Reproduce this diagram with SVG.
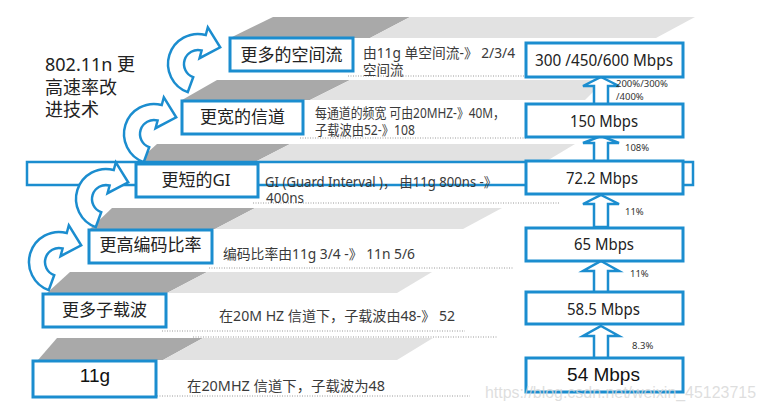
<svg xmlns="http://www.w3.org/2000/svg" xmlns:xlink="http://www.w3.org/1999/xlink" width="766" height="411" viewBox="0 0 766 411">
<defs>
<style>
.dk{fill:#a9a9a9}
.lt{fill:#e2e2e2}
.dot{stroke:#9a9a9a;stroke-width:1;stroke-dasharray:1 1.5;fill:none}
.box{fill:#fff;stroke:#1b8dcf;stroke-width:3}
.arr{fill:#fff;stroke:#1b8dcf;stroke-width:2.5;stroke-linejoin:miter}
.nt{font-family:"Noto Sans","Noto Sans CJK SC",sans-serif;font-size:17px;fill:#222;text-anchor:middle}
.rt{font-family:"Noto Sans","Noto Sans CJK SC",sans-serif;font-size:16px;fill:#222;text-anchor:middle}
.ds{font-family:"Noto Sans","Noto Sans CJK SC",sans-serif;font-size:13.5px;fill:#3a3a3a}
.pc{font-family:"Noto Sans",sans-serif;font-size:9.5px;fill:#333}
.ar{font-family:"Liberation Sans",Arial,sans-serif;fill:#111;text-anchor:middle}
</style>
<path id="carrow" d="M -10.26,28.19 A 30 30 0 0 1 7.76,-28.98 L 9.83,-36.7 L 22.2,-16.7 L 1.55,-5.8 L 3.62,-13.52 A 14 14 0 0 0 -4.79,13.16 Z"/>
</defs>
<rect width="766" height="411" fill="#fff"/>

<g id="bands">
<polygon class="dk" points="230,38 273,17 410,17 370,38"/>
<polygon class="lt" points="370,38 410,17 695,17 656,38"/>
<polygon class="dk" points="182,100 217,80 350,80 310,100"/>
<polygon class="lt" points="310,100 350,80 605,80 585,100"/>
<polygon class="dk" points="137,162 157,144 290,144 255,162"/>
<polygon class="lt" points="255,162 290,144 575,144 545,162"/>
<polygon class="dk" points="90,229 112,208 255,208 215,229"/>
<polygon class="lt" points="215,229 255,208 502,208 463,229"/>
<polygon class="dk" points="47,293 70,272 207,272 167,293"/>
<polygon class="lt" points="167,293 207,272 432,272 397,293"/>
<polygon class="dk" points="38,360 57,338 203,338 163,360"/>
<polygon class="lt" points="163,360 203,338 433,338 397,360"/>
</g>

<g id="dotted">
<line class="dot" x1="348" y1="76" x2="526" y2="76"/>
<line class="dot" x1="300" y1="138" x2="526" y2="138"/>
<line class="dot" x1="253" y1="203" x2="560" y2="203"/>
<line class="dot" x1="209" y1="268" x2="513" y2="268"/>
<line class="dot" x1="162" y1="331" x2="465" y2="331"/>
<line class="dot" x1="193" y1="337" x2="498" y2="337"/>
<line class="dot" x1="157" y1="396" x2="470" y2="396"/>
</g>

<rect id="row-highlight" x="27" y="162" width="666" height="23" fill="none" stroke="#1b8dcf" stroke-width="2.5"/>

<g id="connectors">
<use xlink:href="#carrow" href="#carrow" x="198" y="64" class="arr"/>
<use xlink:href="#carrow" href="#carrow" x="154" y="134" class="arr"/>
<use xlink:href="#carrow" href="#carrow" x="106" y="199" class="arr"/>
<use xlink:href="#carrow" href="#carrow" x="59" y="262" class="arr"/>
<path class="arr" d="M601,326 L619,336 L608,336 L608,359 L594,359 L594,336 L583,336 Z"/>
<path class="arr" d="M601,261 L619,271 L608,271 L608,293 L594,293 L594,271 L583,271 Z"/>
<path class="arr" d="M601,195 L619,204 L608,204 L608,227 L594,227 L594,204 L583,204 Z"/>
<path class="arr" d="M601,136 L619,143 L608,143 L608,162 L594,162 L594,143 L583,143 Z"/>
<path class="arr" d="M601,77 L619,86 L608,86 L608,105 L594,105 L594,86 L583,86 Z"/>
</g>

<g id="title">
<text x="45" y="71" font-family="Noto Sans,Noto Sans CJK SC,sans-serif" font-size="18" fill="#222">802.11n 更</text>
<text x="45" y="94" font-family="Noto Sans,Noto Sans CJK SC,sans-serif" font-size="18" fill="#222">高速率改</text>
<text x="45" y="116" font-family="Noto Sans,Noto Sans CJK SC,sans-serif" font-size="18" fill="#222">进技术</text>
</g>

<g id="n-spatial">
<rect class="box" x="230" y="38" width="123" height="33"/>
<text class="nt" x="291.5" y="61">更多的空间流</text>
<text class="ds" x="363" y="58" textLength="152" lengthAdjust="spacingAndGlyphs">由11g 单空间流-》 2/3/4</text>
<text class="ds" x="363" y="74.5">空间流</text>
</g>
<g id="n-wide">
<rect class="box" x="182" y="101" width="121" height="33"/>
<text class="nt" x="242.5" y="123">更宽的信道</text>
<text class="ds" x="315" y="118" font-size="13" textLength="190" lengthAdjust="spacingAndGlyphs">每通道的频宽 可由20MHZ-》40M，</text>
<text class="ds" x="315" y="135" font-size="13" textLength="100" lengthAdjust="spacingAndGlyphs">子载波由52-》108</text>
</g>
<g id="n-gi">
<rect class="box" x="136" y="164" width="122" height="33"/>
<text class="nt" x="196" y="186">更短的GI</text>
<text class="ds" x="265" y="187" textLength="232" lengthAdjust="spacingAndGlyphs">GI (Guard Interval )， 由11g 800ns -》</text>
<text class="ds" x="266" y="202.5">400ns</text>
</g>
<g id="n-coding">
<rect class="box" x="89" y="230" width="123" height="33"/>
<text class="nt" x="150.5" y="251">更高编码比率</text>
<text class="ds" x="223" y="259" textLength="192" lengthAdjust="spacingAndGlyphs">编码比率由11g 3/4 -》 11n 5/6</text>
</g>
<g id="n-subcarrier">
<rect class="box" x="43" y="294" width="123" height="33"/>
<text class="nt" x="104.5" y="316">更多子载波</text>
<text class="ds" x="219" y="321" textLength="236" lengthAdjust="spacingAndGlyphs">在20M HZ 信道下，子载波由48-》 52</text>
</g>
<g id="n-11g">
<rect class="box" x="33" y="361" width="123" height="36"/>
<text class="ar" x="95" y="382" font-size="19">11g</text>
<text class="ds" x="187" y="391" textLength="198" lengthAdjust="spacingAndGlyphs">在20MHZ 信道下，子载波为48</text>
</g>

<g id="r-300">
<rect class="box" x="526" y="43" width="157" height="34"/>
<text class="rt" x="604" y="66" textLength="138" lengthAdjust="spacingAndGlyphs">300 /450/600 Mbps</text>
</g>
<g id="r-150">
<rect class="box" x="526" y="104" width="157" height="33"/>
<text class="rt" x="604" y="127" textLength="68" lengthAdjust="spacingAndGlyphs">150 Mbps</text>
</g>
<g id="r-72">
<rect class="box" x="526" y="161" width="157" height="33"/>
<text class="rt" x="602" y="184" textLength="72" lengthAdjust="spacingAndGlyphs">72.2 Mbps</text>
</g>
<g id="r-65">
<rect class="box" x="526" y="228" width="157" height="33"/>
<text class="rt" x="604" y="250" textLength="60" lengthAdjust="spacingAndGlyphs">65 Mbps</text>
</g>
<g id="r-58">
<rect class="box" x="526" y="292" width="157" height="32"/>
<text class="rt" x="603.5" y="315" textLength="73" lengthAdjust="spacingAndGlyphs">58.5 Mbps</text>
</g>
<g id="r-54">
<rect class="box" x="526" y="358" width="157" height="34"/>
<text class="ar" x="603.5" y="381" font-size="19">54 Mbps</text>
</g>

<g id="percents">
<text class="pc" x="616" y="87">200%/300%</text>
<text class="pc" x="616" y="100">/400%</text>
<text class="pc" x="625" y="151">108%</text>
<text class="pc" x="625" y="215">11%</text>
<text class="pc" x="630" y="277">11%</text>
<text class="pc" x="632" y="349">8.3%</text>
</g>

<text x="485" y="398" font-family="Liberation Sans,Arial,sans-serif" font-size="16" fill="#d6d6d6" fill-opacity="0.8" textLength="271" lengthAdjust="spacingAndGlyphs">https://blog.csdn.net/weixin_45123715</text>
</svg>
